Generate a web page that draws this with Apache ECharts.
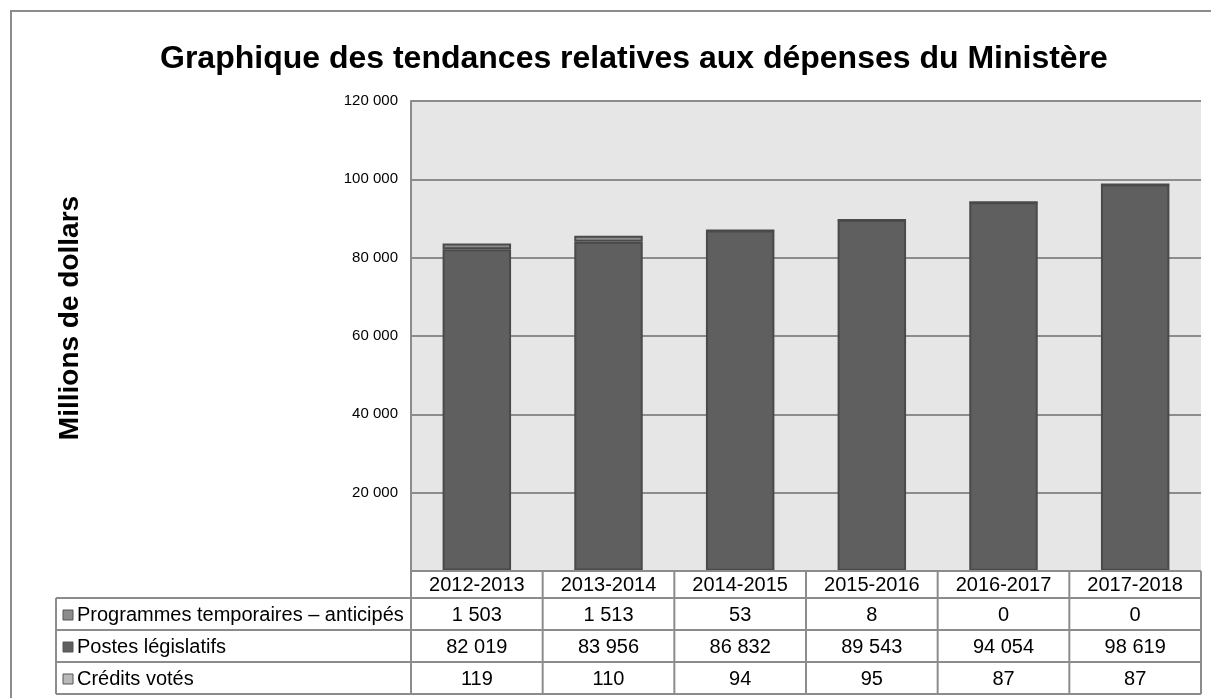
<!DOCTYPE html>
<html>
<head>
<meta charset="utf-8">
<script src="https://cdn.jsdelivr.net/npm/echarts@6/dist/echarts.min.js"></script>
<style>
  html, body { margin: 0; padding: 0; background: #fff; }
  #chart { width: 1211px; height: 698px; }
</style>
</head>
<body>
<div id="chart"></div>
<script>
const years = ['2012-2013', '2013-2014', '2014-2015', '2015-2016', '2016-2017', '2017-2018']
const programmesTemporaires = [1503, 1513, 53, 8, 0, 0]
const postesLegislatifs = [82019, 83956, 86832, 89543, 94054, 98619]
const creditsVotes = [119, 110, 94, 95, 87, 87]
const yTicks = [0, 20000, 40000, 60000, 80000, 100000, 120000]

const FONT = 'Liberation Sans, Arial, sans-serif'
const GRID = { left: 411, top: 101, width: 790, height: 470 }
const ROW_H = 32
const HEAD_H = 27
const LABEL_LEFT = 56
const LINE = '#8c8c8c'

// rows of the data table, top to bottom (same order as the picture)
const tableRows = [
  { name: 'Programmes temporaires – anticipés', values: programmesTemporaires, color: '#8c8c8c' },
  { name: 'Postes législatifs', values: postesLegislatifs, color: '#5f5f5f' },
  { name: 'Crédits votés', values: creditsVotes, color: '#b9b9b9' }
]

function fmt(v) {
  return String(v).replace(/\B(?=(\d{3})+(?!\d))/g, ' ')
}

const chart = echarts.init(document.getElementById('chart'), null, { renderer: 'canvas' })

// stack bottom-up: crédits, postes, programmes
const stackOrder = [tableRows[2], tableRows[1], tableRows[0]]

chart.setOption({
  animation: false,
  backgroundColor: '#fff',
  title: {
    text: 'Graphique des tendances relatives aux dépenses du Ministère',
    left: 155,
    top: 38,
    textStyle: { fontFamily: FONT, fontSize: 32, fontWeight: 'bold', color: '#000' }
  },
  grid: {
    left: GRID.left,
    top: GRID.top,
    width: GRID.width,
    height: GRID.height,
    show: true,
    backgroundColor: '#e6e6e6',
    borderWidth: 0
  },
  xAxis: {
    type: 'category',
    data: years,
    axisLine: { show: false },
    axisTick: { show: false },
    axisLabel: { show: false }
  },
  yAxis: {
    type: 'value',
    min: yTicks[0],
    max: yTicks[yTicks.length - 1],
    interval: yTicks[1] - yTicks[0],
    axisLine: { show: true, lineStyle: { color: LINE, width: 2 } },
    axisTick: { show: false },
    axisLabel: {
      fontFamily: FONT,
      fontSize: 15,
      color: '#000',
      margin: 13,
      formatter: v => (v === 0 ? '' : fmt(v))
    },
    splitLine: { lineStyle: { color: LINE, width: 2 } }
  },
  series: stackOrder.map(r => ({
    name: r.name,
    type: 'bar',
    stack: 'total',
    barWidth: '52%',
    data: r.values,
    itemStyle: { color: r.color, borderColor: '#4a4a4a', borderWidth: 2 }
  }))
})

function buildTable() {
  const els = []
  const right = GRID.left + GRID.width
  const top = GRID.top + GRID.height
  const band = GRID.width / years.length
  const bottom = top + HEAD_H + ROW_H * tableRows.length
  const line = (x1, y1, x2, y2) => ({
    type: 'line',
    shape: { x1, y1, x2, y2 },
    style: { stroke: LINE, lineWidth: 2 },
    z: 10
  })
  const text = (t, x, y, align) => ({
    type: 'text',
    x, y,
    style: { text: t, fontFamily: FONT, fontSize: 20, fill: '#000', align, verticalAlign: 'middle' },
    z: 11
  })

  // axis title, rotated
  els.push({
    type: 'text',
    x: 70, y: 318,
    rotation: Math.PI / 2,
    style: {
      text: 'Millions de dollars', fontFamily: FONT, fontSize: 28, fontWeight: 'bold',
      fill: '#000', align: 'center', verticalAlign: 'middle'
    },
    z: 11
  })

  // header row
  els.push({ type: 'rect', shape: { x: GRID.left, y: top, width: GRID.width, height: bottom - top }, style: { fill: '#fff' }, z: 9 })
  els.push(line(GRID.left, top, right, top))
  els.push(line(LABEL_LEFT, top + HEAD_H, right, top + HEAD_H))
  years.forEach(y => {
    const cx = chart.convertToPixel({ xAxisIndex: 0 }, y)
    els.push(text(y, cx, top + HEAD_H / 2 + 1, 'center'))
  })
  for (let i = 0; i <= years.length; i++) {
    const x = GRID.left + band * i
    els.push(line(x, top, x, bottom))
  }
  els.push(line(LABEL_LEFT, top + HEAD_H, LABEL_LEFT, bottom))

  tableRows.forEach((r, ri) => {
    const y0 = top + HEAD_H + ROW_H * ri
    const yc = y0 + ROW_H / 2 + 1
    els.push(line(LABEL_LEFT, y0 + ROW_H, right, y0 + ROW_H))
    els.push({
      type: 'rect',
      shape: { x: LABEL_LEFT + 7, y: yc - 5, width: 10, height: 10 },
      style: { fill: r.color, stroke: '#555', lineWidth: 1 },
      z: 11
    })
    els.push(text(r.name, LABEL_LEFT + 21, yc, 'left'))
    r.values.forEach((v, ci) => {
      const cx = chart.convertToPixel({ xAxisIndex: 0 }, years[ci])
      els.push(text(fmt(v), cx, yc, 'center'))
    })
  })

  // outer frame of the whole chart
  els.push({
    type: 'rect',
    shape: { x: 11, y: 11, width: 1220, height: 720 },
    style: { fill: null, stroke: LINE, lineWidth: 2 },
    z: 12
  })
  return els
}

chart.setOption({ graphic: buildTable() })
</script>
</body>
</html>
